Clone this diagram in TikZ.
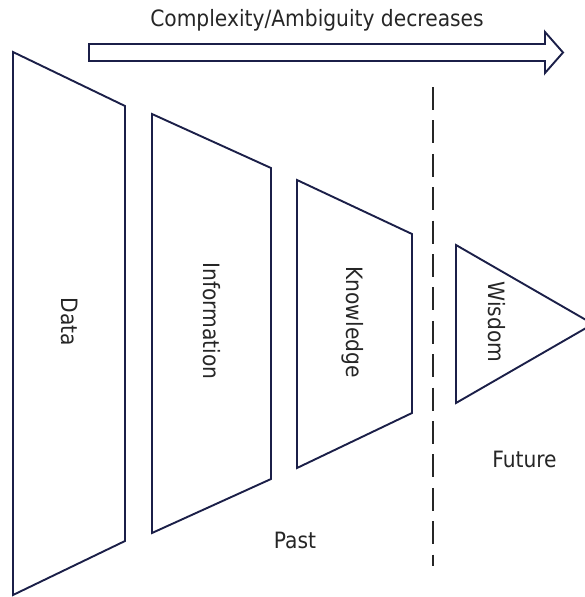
\documentclass[tikz,border=0pt]{standalone}
\usepackage{fontspec}
\setmainfont{DejaVu Sans Condensed}
\definecolor{navy}{RGB}{27,31,72}
\definecolor{ink}{RGB}{38,38,38}
\begin{document}
\begin{tikzpicture}[x=1pt,y=-1pt,
  outline/.style={draw=navy, line width=1.9pt, line join=miter},
  txt/.style={text=ink, font=\fontsize{22.5}{26}\selectfont, inner sep=0pt},
  vtxt/.style={txt, rotate=-90},
  divider/.style={draw=ink, line width=1.8pt, dash pattern=on 23pt off 10.4pt}]
\useasboundingbox (0,0) rectangle (584,597);

% flow arrow
\draw[outline] (89,44) -- (545,44) -- (545,32) -- (563,52.5) -- (545,73)
  -- (545,61) -- (89,61) -- cycle;
\node[txt, anchor=base] (title) at (317,27) {Complexity/Ambiguity decreases};

% pyramid stages
\draw[outline] (13,52) -- (125,106) -- (125,541) -- (13,595) -- cycle;
\draw[outline] (152,114) -- (271,168) -- (271,479) -- (152,533) -- cycle;
\draw[outline] (297,180) -- (412,234) -- (412,413) -- (297,468) -- cycle;
\draw[outline] (456,245) -- (593,324) -- (456,403) -- cycle;

\node[vtxt] (data) at (70,322) {Data};
\node[vtxt] (info) at (212,321) {Information};
\node[vtxt] (know) at (353,322) {Knowledge};
\node[vtxt] (wis) at (497,322) {Wisdom};

% past / future divider
\coordinate (dtop) at (433,87);
\coordinate (dbot) at (433,566);
\draw[divider] (dtop) -- (dbot);

\node[txt, anchor=base] (past) at (295,548) {Past};
\node[txt, anchor=base] (future) at (524.5,467) {Future};
\end{tikzpicture}
\end{document}
